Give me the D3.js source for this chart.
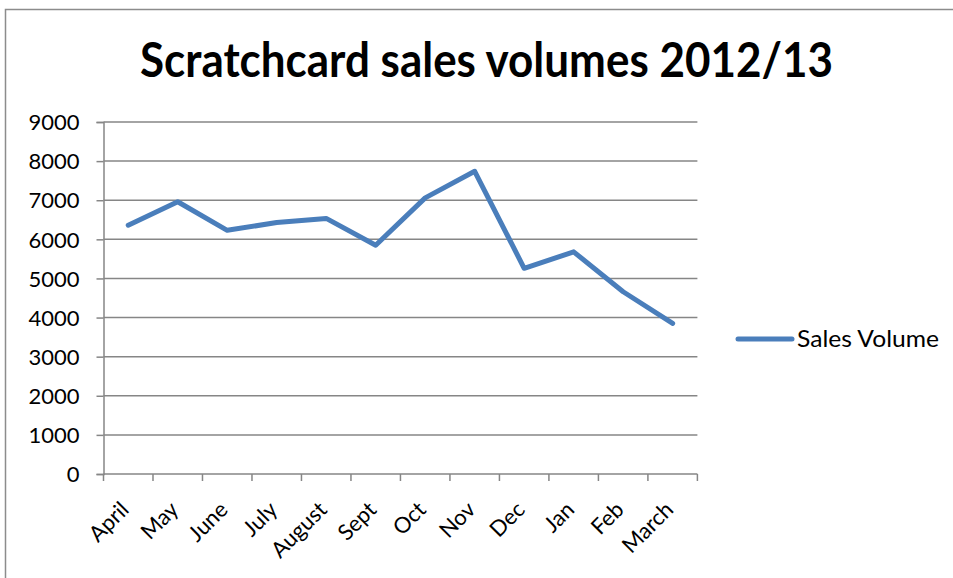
<!DOCTYPE html>
<html><head><meta charset="utf-8">
<script src="https://cdn.jsdelivr.net/npm/d3@7"></script>
<style>html,body{margin:0;padding:0;background:#fff;}svg{display:block;}</style>
</head><body>
<svg id="c" width="953" height="578"></svg>
<script>
const months = ["April","May","June","July","August","Sept","Oct","Nov","Dec","Jan","Feb","March"];
const salesVolume = [6360, 6960, 6230, 6430, 6535, 5850, 7060, 7740, 5260, 5680, 4660, 3850];
const yTicks = [0,1000,2000,3000,4000,5000,6000,7000,8000,9000];
const seriesName = "Sales Volume";
const titleText = "Scratchcard sales volumes 2012/13";

(function(){
const svg = d3.select("#c");
const font = "Lato, 'Open Sans', sans-serif";
const pLeft = 103.5, pRight = 697.4, pTop = 122, pBottom = 474;

svg.append("path").attr("d","M5.5,578 L5.5,9.5 L953,9.5").attr("fill","none").attr("stroke","#8c8c8c").attr("stroke-width",1.5);

const x = d3.scaleBand().domain(months).range([pLeft,pRight]);
const y = d3.scaleLinear().domain([0,9000]).range([pBottom,pTop]);

svg.append("g").selectAll("line").data(yTicks.filter(d=>d>0)).join("line")
  .attr("x1",pLeft).attr("x2",pRight).attr("y1",d=>y(d)).attr("y2",d=>y(d))
  .attr("stroke","#868686").attr("stroke-width",1.5);

const ya = svg.append("g").attr("transform",`translate(${pLeft},0)`)
  .call(d3.axisLeft(y).tickValues(yTicks).tickSize(7).tickPadding(17).tickFormat(d3.format("d")));
ya.select(".domain").attr("stroke","#868686").attr("stroke-width",1.5);
ya.selectAll(".tick line").attr("stroke","#868686").attr("stroke-width",1.5);
ya.selectAll(".tick text").attr("font-family",font).attr("font-size",22).attr("fill","#000").attr("dy","0.35em");

const xa = svg.append("g").attr("transform",`translate(0,${pBottom})`);
xa.append("line").attr("x1",pLeft).attr("x2",pRight).attr("stroke","#868686").attr("stroke-width",1.5);
const bounds = months.map(m=>x(m)).concat([pRight]);
xa.selectAll("line.t").data(bounds).join("line").attr("class","t")
  .attr("x1",d=>d).attr("x2",d=>d).attr("y1",0).attr("y2",7)
  .attr("stroke","#868686").attr("stroke-width",1.5);
xa.selectAll("text").data(months).join("text")
  .attr("transform",d=>`translate(${x(d)+x.bandwidth()/2-9},${26}) rotate(-45)`)
  .attr("text-anchor","end").attr("dy","0.71em")
  .attr("font-family",font).attr("font-size",22).attr("fill","#000").text(d=>d);

const line = d3.line().x((d,i)=>x(months[i])+x.bandwidth()/2).y(d=>y(d));
svg.append("path").datum(salesVolume).attr("d",line).attr("fill","none")
  .attr("stroke","#4a7ebb").attr("stroke-width",5).attr("stroke-linejoin","round").attr("stroke-linecap","round");

svg.append("line").attr("x1",738).attr("x2",792).attr("y1",339).attr("y2",339)
  .attr("stroke","#4a7ebb").attr("stroke-width",5).attr("stroke-linecap","round");
svg.append("text").attr("x",797).attr("y",339).attr("dy","0.35em")
  .attr("font-family",font).attr("font-size",24).attr("fill","#000")
  .attr("textLength",142).attr("lengthAdjust","spacingAndGlyphs").text(seriesName);

svg.append("text").attr("x",486.5).attr("y",77).attr("text-anchor","middle")
  .attr("font-family",font).attr("font-weight","bold").attr("font-size",47)
  .attr("textLength",693).attr("lengthAdjust","spacingAndGlyphs")
  .attr("fill","#000").text(titleText);
})();
</script>
</body></html>
